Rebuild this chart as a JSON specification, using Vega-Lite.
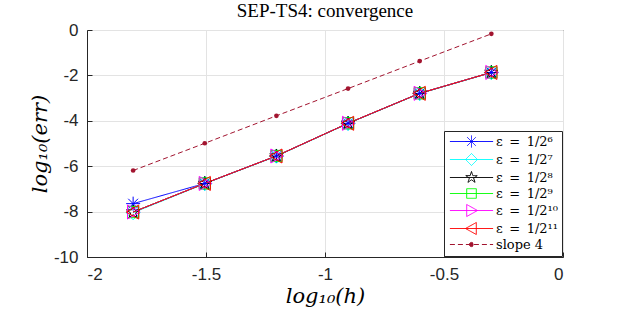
{
  "$schema": "https://vega.github.io/schema/vega-lite/v6.json",
  "width": 476,
  "height": 227,
  "autosize": {"type": "none"},
  "padding": {"left": 87, "top": 30, "right": 58, "bottom": 54},
  "background": "white",
  "title": {"text": "SEP-TS4: convergence", "font": "Liberation Serif", "fontSize": 19, "fontWeight": "normal", "color": "#000000", "offset": 0, "anchor": "middle"},
  "data": {"values": [
    {"series": "ε = 1/2⁶", "lh": -1.80618, "le": -7.65},
    {"series": "ε = 1/2⁶", "lh": -1.50515, "le": -6.76},
    {"series": "ε = 1/2⁶", "lh": -1.20412, "le": -5.55},
    {"series": "ε = 1/2⁶", "lh": -0.90309, "le": -4.11},
    {"series": "ε = 1/2⁶", "lh": -0.60206, "le": -2.79},
    {"series": "ε = 1/2⁶", "lh": -0.30103, "le": -1.87},
    {"series": "ε = 1/2⁷", "lh": -1.80618, "le": -8.05},
    {"series": "ε = 1/2⁷", "lh": -1.50515, "le": -6.77},
    {"series": "ε = 1/2⁷", "lh": -1.20412, "le": -5.56},
    {"series": "ε = 1/2⁷", "lh": -0.90309, "le": -4.12},
    {"series": "ε = 1/2⁷", "lh": -0.60206, "le": -2.80},
    {"series": "ε = 1/2⁷", "lh": -0.30103, "le": -1.88},
    {"series": "ε = 1/2⁸", "lh": -1.80618, "le": -8.02},
    {"series": "ε = 1/2⁸", "lh": -1.50515, "le": -6.76},
    {"series": "ε = 1/2⁸", "lh": -1.20412, "le": -5.55},
    {"series": "ε = 1/2⁸", "lh": -0.90309, "le": -4.11},
    {"series": "ε = 1/2⁸", "lh": -0.60206, "le": -2.79},
    {"series": "ε = 1/2⁸", "lh": -0.30103, "le": -1.87},
    {"series": "ε = 1/2⁹", "lh": -1.80618, "le": -8.02},
    {"series": "ε = 1/2⁹", "lh": -1.50515, "le": -6.76},
    {"series": "ε = 1/2⁹", "lh": -1.20412, "le": -5.55},
    {"series": "ε = 1/2⁹", "lh": -0.90309, "le": -4.11},
    {"series": "ε = 1/2⁹", "lh": -0.60206, "le": -2.79},
    {"series": "ε = 1/2⁹", "lh": -0.30103, "le": -1.87},
    {"series": "ε = 1/2¹⁰", "lh": -1.80618, "le": -8.02},
    {"series": "ε = 1/2¹⁰", "lh": -1.50515, "le": -6.76},
    {"series": "ε = 1/2¹⁰", "lh": -1.20412, "le": -5.55},
    {"series": "ε = 1/2¹⁰", "lh": -0.90309, "le": -4.11},
    {"series": "ε = 1/2¹⁰", "lh": -0.60206, "le": -2.79},
    {"series": "ε = 1/2¹⁰", "lh": -0.30103, "le": -1.87},
    {"series": "ε = 1/2¹¹", "lh": -1.80618, "le": -8.02},
    {"series": "ε = 1/2¹¹", "lh": -1.50515, "le": -6.76},
    {"series": "ε = 1/2¹¹", "lh": -1.20412, "le": -5.55},
    {"series": "ε = 1/2¹¹", "lh": -0.90309, "le": -4.11},
    {"series": "ε = 1/2¹¹", "lh": -0.60206, "le": -2.79},
    {"series": "ε = 1/2¹¹", "lh": -0.30103, "le": -1.87},
    {"series": "slope 4", "lh": -1.80618, "le": -6.19},
    {"series": "slope 4", "lh": -1.50515, "le": -4.99},
    {"series": "slope 4", "lh": -1.20412, "le": -3.78},
    {"series": "slope 4", "lh": -0.90309, "le": -2.58},
    {"series": "slope 4", "lh": -0.60206, "le": -1.37},
    {"series": "slope 4", "lh": -0.30103, "le": -0.17}
  ]},
  "encoding": {
    "x": {"field": "lh", "type": "quantitative", "scale": {"domain": [-2, 0], "nice": false, "zero": false},
      "axis": {"values": [-2, -1.5, -1, -0.5, 0], "title": "log₁₀(h)", "labelExpr": "'' + datum.value"}},
    "y": {"field": "le", "type": "quantitative", "scale": {"domain": [-10, 0], "nice": false, "zero": false},
      "axis": {"values": [-10, -8, -6, -4, -2, 0], "title": "log₁₀(err)", "labelExpr": "'' + datum.value"}},
    "color": {"field": "series", "type": "nominal",
      "scale": {"domain": ["ε = 1/2⁶", "ε = 1/2⁷", "ε = 1/2⁸", "ε = 1/2⁹", "ε = 1/2¹⁰", "ε = 1/2¹¹", "slope 4"],
                "range": ["#0000ff", "#00ffff", "#000000", "#00ff00", "#ff00ff", "#ff0000", "#a2142f"]}}
  },
  "layer": [
    {
      "mark": {"type": "line", "strokeWidth": 1},
      "encoding": {
        "color": {"field": "series", "type": "nominal",
          "scale": {"domain": ["ε = 1/2⁶", "ε = 1/2⁷", "ε = 1/2⁸", "ε = 1/2⁹", "ε = 1/2¹⁰", "ε = 1/2¹¹", "slope 4"],
                    "range": ["#0000ff", "#00ffff", "#000000", "#00ff00", "#ff00ff", "#ff0000", "#a2142f"]},
          "legend": {
            "title": null, "orient": "bottom-right", "offset": 1,
            "strokeColor": "#262626", "fillColor": "white", "padding": 4,
            "symbolSize": 144, "symbolOffset": 17, "labelOffset": 18, "rowPadding": 1,
            "symbolFillColor": "transparent",
            "labelFont": "DejaVu Serif", "labelFontSize": 13, "labelColor": "#000000", "labelLimit": 200,
            "labelExpr": "replace(datum.label, / = /, '\u2002=\u2002')",
            "encode": {"symbols": {"update": {
              "shape": {"signal": "['M-3.6,0L3.6,0M-1,0L1,0M0,-1L0,1M-0.7,-0.7L0.7,0.7M-0.7,0.7L0.7,-0.7','M-3.6,0L3.6,0M0,-1L1,0L0,1L-1,0Z','M-3.6,0L3.6,0M0,-1L0.225,-0.309L0.951,-0.309L0.363,0.118L0.588,0.809L0,0.382L-0.588,0.809L-0.363,0.118L-0.951,-0.309L-0.225,-0.309Z','M-3.6,0L3.6,0M-0.8,-0.8L0.8,-0.8L0.8,0.8L-0.8,0.8Z','M-3.6,0L3.6,0M-0.8,-1L1,0L-0.8,1Z','M-3.6,0L3.6,0M0.8,-1L-1,0L0.8,1Z','M-3.6,0L3.6,0M-0.35,0A0.35,0.35 0 1,0 0.35,0A0.35,0.35 0 1,0 -0.35,0Z'][datum.index]"},
              "fill": {"signal": "datum.index == 6 ? '#a2142f' : 'white'"},
              "fillOpacity": {"signal": "datum.index == 6 ? 1 : 0"},
              "stroke": {"signal": "['#0000ff','#00ffff','#000000','#00ff00','#ff00ff','#ff0000','#a2142f'][datum.index]"},
              "strokeOpacity": {"value": 1},
              "strokeDash": {"signal": "datum.index == 6 ? [4, 3] : [1, 0]"},
              "strokeWidth": {"value": 1},
              "opacity": {"value": 1}
            }}}
          }},
        "strokeDash": {"field": "series", "type": "nominal", "legend": null,
          "scale": {"domain": ["ε = 1/2⁶", "ε = 1/2⁷", "ε = 1/2⁸", "ε = 1/2⁹", "ε = 1/2¹⁰", "ε = 1/2¹¹", "slope 4"],
                    "range": [[1, 0], [1, 0], [1, 0], [1, 0], [1, 0], [1, 0], [5, 3]]}}
      }
    },
    {
      "transform": [{"filter": "datum.series != 'slope 4'"}],
      "mark": {"type": "point", "filled": false, "size": 196, "strokeWidth": 1, "opacity": 1, "fillOpacity": 0, "strokeOpacity": 1},
      "encoding": {
        "shape": {"field": "series", "type": "nominal", "legend": null,
          "scale": {"domain": ["ε = 1/2⁶", "ε = 1/2⁷", "ε = 1/2⁸", "ε = 1/2⁹", "ε = 1/2¹⁰", "ε = 1/2¹¹"],
                    "range": ["M-1,0L1,0M0,-1L0,1M-0.7,-0.7L0.7,0.7M-0.7,0.7L0.7,-0.7", "M0,-1L1,0L0,1L-1,0Z", "M0,-1L0.225,-0.309L0.951,-0.309L0.363,0.118L0.588,0.809L0,0.382L-0.588,0.809L-0.363,0.118L-0.951,-0.309L-0.225,-0.309Z", "M-0.8,-0.8L0.8,-0.8L0.8,0.8L-0.8,0.8Z", "M-0.8,-1L1,0L-0.8,1Z", "M0.8,-1L-1,0L0.8,1Z"]}}
      }
    },
    {
      "transform": [{"filter": "datum.series == 'slope 4'"}],
      "mark": {"type": "point", "filled": true, "size": 22, "shape": "circle", "opacity": 1},
      "encoding": {}
    }
  ],
  "config": {
    "view": {"stroke": "#262626", "strokeWidth": 1},
    "axis": {
      "gridColor": "#e3e3e3", "gridWidth": 1, "domainColor": "#262626", "tickColor": "#262626",
      "tickSize": -5, "labelPadding": 14, "labelFont": "Liberation Sans", "labelFontSize": 17, "labelColor": "#262626",
      "titleFont": "DejaVu Serif", "titleFontStyle": "italic", "titleFontWeight": "normal", "titleFontSize": 21, "titleColor": "#000000"
    },
    "axisX": {"titlePadding": 3},
    "axisY": {"titlePadding": 3}
  }
}
